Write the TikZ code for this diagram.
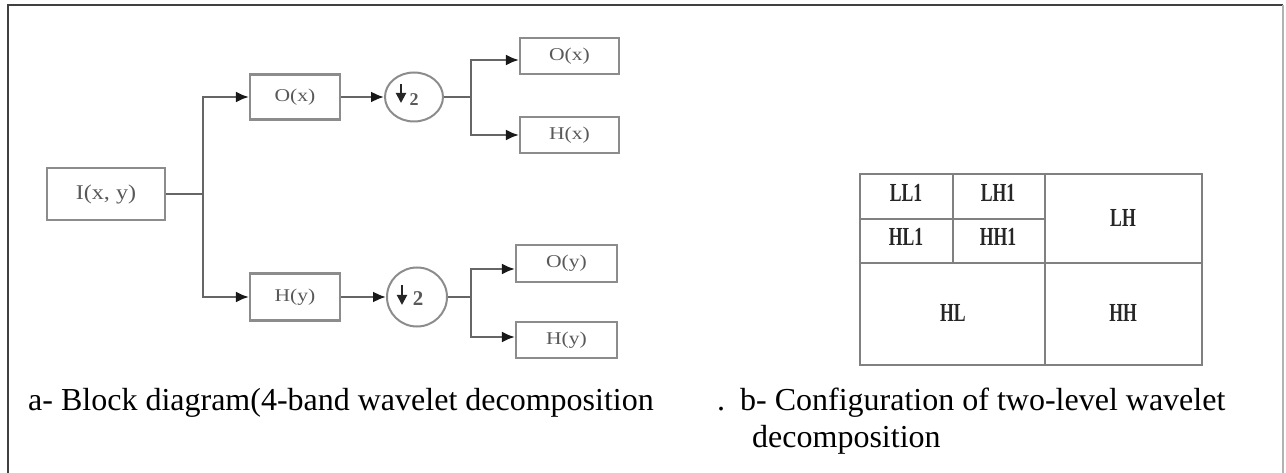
\documentclass[tikz,border=0pt]{standalone}
\usepackage{fontspec}
\usepackage{graphicx}
\setmainfont{Liberation Serif}
\usetikzlibrary{arrows.meta,shapes.geometric}
\begin{document}
\begin{tikzpicture}[x=1pt,y=-1pt,
 blk/.style={draw=black!45, line width=2.2pt, minimum width=90pt, minimum height=45pt, inner sep=0pt, text=black!65, font=\fontsize{18}{20}\selectfont},
 dsamp/.style={ellipse, draw=black!45, line width=2pt, inner sep=0pt},
 wire/.style={draw=black!60, line width=2.2pt},
 arr/.style={wire, -{Latex[length=13pt,width=11pt,color=black!90]}},
 dn/.style={line width=2pt, draw=black!85, -{Triangle[length=10pt,width=10pt]}},
 two/.style={font=\fontsize{18}{19}\selectfont\bfseries, text=black!65, inner sep=0pt},
 celltxt/.style={font=\fontsize{26}{28}\selectfont\bfseries, text=black!85, inner sep=0pt},
 captxt/.style={font=\fontsize{32}{37}\selectfont, anchor=base west, inner sep=0pt},
 gridline/.style={draw=black!50, line width=1.8pt}
]
\path[use as bounding box] (0,0) rectangle (1286,473);
% frame
\draw[black!75, line width=1.8pt] (8,480) -- (8,5) -- (1283,5);
\draw[black!30, line width=1.2pt] (1283,5) -- (1283,480);

% block diagram
\node[blk, minimum width=118pt, minimum height=52pt, font=\fontsize{21}{23}\selectfont] (I) at (106,194) {\scalebox{1.15}[1]{I(x, y)}};
\coordinate (s1) at (203,194);
\node[blk] (Ox) at (295,97) {\scalebox{1.2}[1]{O(x)}};
\node[blk, minimum height=47pt] (Hy) at (295,297) {\scalebox{1.2}[1]{H(y)}};
\node[dsamp, minimum width=58pt, minimum height=49pt] (d1) at (414,97) {};
\node[dsamp, minimum width=60pt, minimum height=59pt] (d2) at (417,297) {};
\draw[dn] ([xshift=-13pt,yshift=13pt]d1.center) -- ([xshift=-13pt,yshift=-6pt]d1.center);
\node[two] (t1) at (414,100) {2};
\draw[dn] ([xshift=-15pt,yshift=12pt]d2.center) -- ([xshift=-15pt,yshift=-8pt]d2.center);
\node[two, font=\fontsize{21}{22}\selectfont\bfseries] (t2) at (418,299) {2};

\coordinate (s2) at (471,97);
\coordinate (s3) at (471,297);
\node[blk, minimum width=99pt, minimum height=36pt] (Gx) at (569.5,56) {\scalebox{1.2}[1]{O(x)}};
\node[blk, minimum width=99pt, minimum height=36pt] (Hx) at (569.5,135) {\scalebox{1.2}[1]{H(x)}};
\node[blk, minimum width=101pt, minimum height=37pt] (Gy) at (566.5,263.5) {\scalebox{1.2}[1]{O(y)}};
\node[blk, minimum width=101pt, minimum height=36pt] (Hy2) at (566.5,340) {\scalebox{1.2}[1]{H(y)}};

\draw[wire] (I.east) -- (s1);
\draw[arr] (s1) |- (Ox.west);
\draw[arr] (s1) |- (Hy.west);
\draw[arr] (Ox.east) -- (d1.west);
\draw[arr] (Hy.east) -- (d2.west);
\draw[wire, line width=1.6pt] (d1.east) -- (s2);
\draw[wire, line width=1.6pt] (d2.east) -- (s3);
\draw[arr] (s2) |- ([yshift=-4pt]Gx.west);
\draw[arr] (s2) |- (Hx.west);
\draw[arr] (s3) |- ([yshift=-5.5pt]Gy.west);
\draw[arr] (s3) |- ([yshift=3pt]Hy2.west);

% table
\draw[gridline] (860,174) rectangle (1202,365);
\draw[gridline] (953,174) -- (953,263);
\draw[gridline] (1045,174) -- (1045,365);
\draw[gridline] (860,219) -- (1045,219);
\draw[gridline] (860,263) -- (1202,263);
\node[celltxt] (LL1) at (906,193) {\scalebox{0.68}[1]{LL1}};
\node[celltxt] (LH1) at (998,193) {\scalebox{0.68}[1]{LH1}};
\node[celltxt] (HL1) at (906,237) {\scalebox{0.68}[1]{HL1}};
\node[celltxt] (HH1) at (998,237) {\scalebox{0.68}[1]{HH1}};
\node[celltxt] (LH) at (1123,218) {\scalebox{0.68}[1]{LH}};
\node[celltxt] (HL) at (953,313) {\scalebox{0.68}[1]{HL}};
\node[celltxt] (HH) at (1123,313) {\scalebox{0.68}[1]{HH}};

% captions
\node[captxt] (ca) at (28,410) {a- Block diagram(4-band wavelet decomposition};
\node[captxt] (cb) at (717,410) {.\hspace{15pt}b- Configuration of two-level wavelet};
\node[captxt] (cb2) at (752,447) {decomposition};
\end{tikzpicture}
\end{document}
